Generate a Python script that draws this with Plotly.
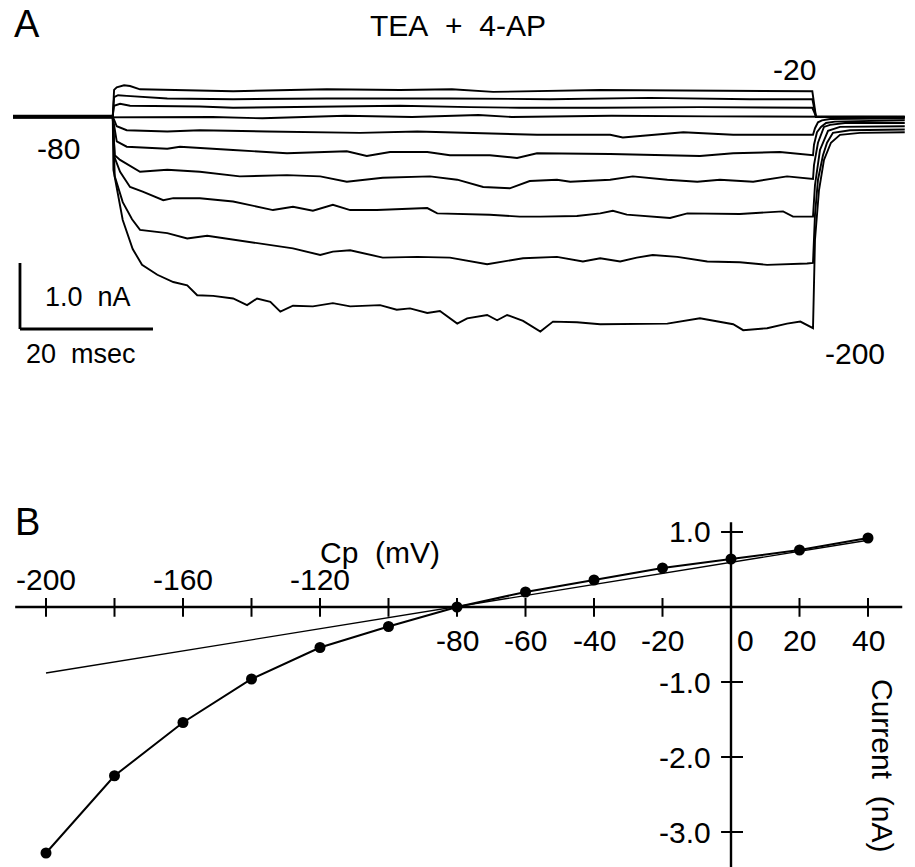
import plotly.graph_objects as go

W, H = 915, 867
FONT = "Liberation Sans, Arial, Helvetica, sans-serif"

# ---------------- Panel A: current traces (time in ms, current in nA) ----------------
step_mv = [-20, -40, -60, -80, -100, -120, -140, -160, -180, -200]

t_m20 = [0, 15.0, 15.2, 15.6, 16.7, 17.6, 19.1, 23.2, 33.1, 47.2, 58.2, 66.0, 72.2, 88.3, 103.3, 120.2, 120.75, 134.1]
i_m20 = [0.01, 0.01, 0.41, 0.45, 0.48, 0.47, 0.42, 0.41, 0.39, 0.42, 0.41, 0.42, 0.38, 0.41, 0.40, 0.39, 0.0, 0.01]

t_m40 = [0, 15.0, 15.2, 15.8, 17.1, 23.2, 33.1, 47.2, 65.7, 80.8, 95.8, 110.8, 120.2, 120.75, 134.1]
i_m40 = [0.0, 0.0, 0.30, 0.33, 0.32, 0.28, 0.27, 0.28, 0.28, 0.27, 0.29, 0.27, 0.27, 0.0, -0.01]

t_m60 = [0, 15.0, 15.2, 16.1, 17.6, 28.1, 33.1, 47.2, 58.2, 68.7, 76.2, 88.3, 103.3, 120.2, 120.75, 134.1]
i_m60 = [0.02, 0.02, 0.17, 0.20, 0.17, 0.16, 0.14, 0.16, 0.17, 0.15, 0.14, 0.14, 0.15, 0.14, 0.01, 0.0]

t_m80 = [0, 15.0, 30.0, 37.5, 50.0, 60.0, 70.0, 75.0, 90.0, 105.0, 120.2, 134.1]
i_m80 = [-0.01, -0.01, 0.0, -0.02, 0.02, 0.0, 0.03, 0.0, 0.02, 0.01, 0.0, 0.0]

t_m100 = [0, 15.0, 15.6, 17.1, 23.2, 28.1, 38.2, 52.2, 60.8, 78.8, 89.8, 91.7, 100.8, 108.3,
          120.3, 120.6, 121.05, 121.65, 122.86, 134.1]
i_m100 = [0.01, 0.01, -0.14, -0.20, -0.22, -0.20, -0.22, -0.24, -0.22, -0.27, -0.27, -0.31, -0.23, -0.27,
          -0.27, -0.17, -0.08, -0.05, -0.03, -0.02]

t_m120 = [0, 15.0, 15.6, 17.1, 23.2, 25.1, 33.1, 41.2, 50.2, 53.2, 56.7, 62.3, 65.7, 71.7, 75.8, 78.8,
          89.8, 100.8, 103.3, 108.3, 115.3, 120.3, 120.45, 120.9, 121.5, 122.26, 123.6, 134.1]
i_m120 = [0.0, 0.0, -0.37, -0.45, -0.48, -0.45, -0.50, -0.55, -0.52, -0.59, -0.53, -0.53, -0.58, -0.58, -0.62, -0.55,
          -0.56, -0.58, -0.59, -0.55, -0.53, -0.58, -0.42, -0.23, -0.15, -0.09, -0.07, -0.05]

t_m140 = [0, 15.0, 15.3, 16.1, 19.1, 23.2, 28.1, 34.1, 41.2, 46.2, 50.2, 55.6, 62.7, 66.8, 70.7, 74.7, 77.7,
          81.8, 83.8, 89.8, 93.2, 98.4, 102.9, 106.3, 111.3, 116.4, 120.3, 120.45, 121.05, 121.95, 122.86,
          125.1, 134.1]
i_m140 = [-0.01, -0.01, -0.58, -0.65, -0.83, -0.80, -0.83, -0.90, -0.88, -0.90, -0.98, -0.92, -0.90, -0.95,
          -1.06, -1.08, -0.97, -0.95, -0.98, -0.95, -0.90, -0.95, -0.98, -0.95, -0.98, -0.90, -0.94, -0.73,
          -0.39, -0.15, -0.12, -0.09, -0.09]

t_m160 = [0, 15.0, 15.3, 16.1, 17.6, 19.5, 22.6, 24.1, 28.1, 33.1, 39.1, 42.1, 45.1, 48.1, 50.7, 54.7,
          62.3, 63.8, 71.7, 76.2, 79.3, 84.8, 88.3, 90.2, 92.3, 98.8, 101.4, 109.3, 115.8, 117.3, 120.3,
          120.6, 121.35, 121.8, 122.56, 124.36, 134.1]
i_m160 = [0.0, 0.0, -0.62, -0.83, -1.06, -1.13, -1.26, -1.23, -1.23, -1.28, -1.41, -1.36, -1.42, -1.33,
          -1.41, -1.41, -1.38, -1.46, -1.48, -1.51, -1.51, -1.50, -1.46, -1.42, -1.48, -1.53, -1.46, -1.47,
          -1.43, -1.51, -1.51, -1.03, -0.50, -0.39, -0.21, -0.15, -0.14]

t_m180 = [0, 15.0, 15.3, 16.5, 17.9, 19.1, 23.2, 26.2, 29.2, 33.1, 38.2, 42.1, 46.2, 48.1, 50.7, 55.6,
          60.8, 65.7, 71.3, 73.7, 76.7, 81.8, 85.7, 88.3, 91.3, 93.8, 96.2, 99.9, 104.4, 109.3, 113.4,
          119.4, 120.3, 120.6, 121.05, 121.8, 122.41, 123.3, 125.86, 134.1]
i_m180 = [0.01, 0.01, -0.90, -1.29, -1.55, -1.71, -1.76, -1.84, -1.80, -1.86, -1.94, -1.99, -2.09, -2.04,
          -2.02, -2.13, -2.12, -2.13, -2.23, -2.19, -2.14, -2.12, -2.19, -2.14, -2.19, -2.13, -2.09, -2.12,
          -2.19, -2.20, -2.24, -2.22, -2.21, -1.48, -0.95, -0.58, -0.39, -0.24, -0.20, -0.19]

t_m200 = [0, 15.0, 15.1, 16.5, 18.0, 19.4, 21.7, 24.1, 26.2, 27.7, 30.1, 33.1, 35.2, 36.7, 38.7, 40.2,
          42.1, 45.1, 48.1, 50.7, 55.2, 57.7, 59.7, 62.3, 64.2, 66.8, 68.3, 71.3, 72.8, 74.3, 76.7, 79.3,
          81.2, 84.8, 88.3, 93.2, 98.4, 103.3, 108.3, 109.8, 113.4, 116.4, 118.4, 120.3, 120.6, 121.2,
          121.95, 123.0, 124.36, 127.37, 134.1]
i_m200 = [-0.01, -0.01, -0.80, -1.56, -2.00, -2.24, -2.39, -2.50, -2.55, -2.70, -2.71, -2.75, -2.85, -2.75,
          -2.80, -2.95, -2.86, -2.87, -2.82, -2.87, -2.85, -2.92, -2.90, -2.97, -2.94, -3.13, -3.05, -3.00,
          -3.08, -3.00, -3.09, -3.25, -3.10, -3.11, -3.14, -3.14, -3.13, -3.05, -3.14, -3.23, -3.20, -3.13,
          -3.10, -3.20, -1.86, -1.11, -0.65, -0.39, -0.27, -0.24, -0.23]

traces_A = [(t_m20, i_m20), (t_m40, i_m40), (t_m60, i_m60), (t_m80, i_m80), (t_m100, i_m100),
            (t_m120, i_m120), (t_m140, i_m140), (t_m160, i_m160), (t_m180, i_m180), (t_m200, i_m200)]

# scale bars
bar_ms = 20.0
bar_na = 1.0

# ---------------- Panel B: I-V relation ----------------
iv_mv = [-200, -180, -160, -140, -120, -100, -80, -60, -40, -20, 0, 20, 40]
iv_na = [-3.28, -2.25, -1.54, -0.96, -0.54, -0.26, 0.0, 0.20, 0.36, 0.52, 0.64, 0.76, 0.92]
fit_mv = [-200, 40]
fit_na = [-0.88, 0.89]

x_ticks = [-200, -180, -160, -140, -120, -100, -80, -60, -40, -20, 0, 20, 40]
x_labels_above = [-200, -160, -120]
x_labels_below = [-80, -60, -40, -20, 0, 20, 40]
y_ticks = [1.0, -1.0, -2.0, -3.0]
y_tick_text = ["1.0", "-1.0", "-2.0", "-3.0"]
x_axis_span = [-209, 50]
y_axis_span = [-3.47, 1.13]

fig = go.Figure()

for t, i in traces_A:
    fig.add_trace(go.Scatter(x=t, y=i, mode="lines", line=dict(color="black", width=1.9),
                             xaxis="x", yaxis="y", hoverinfo="skip", showlegend=False))

# Panel B axes lines and ticks
fig.add_trace(go.Scatter(x=x_axis_span, y=[0, 0], mode="lines", line=dict(color="black", width=2.4),
                         xaxis="x2", yaxis="y2", hoverinfo="skip", showlegend=False))
fig.add_trace(go.Scatter(x=[0, 0], y=y_axis_span, mode="lines", line=dict(color="black", width=2.4),
                         xaxis="x2", yaxis="y2", hoverinfo="skip", showlegend=False))
tx, ty = [], []
for v in x_ticks:
    tx += [v, v, None]
    ty += [-0.13, 0.12, None]
fig.add_trace(go.Scatter(x=tx, y=ty, mode="lines", line=dict(color="black", width=2.0),
                         xaxis="x2", yaxis="y2", hoverinfo="skip", showlegend=False))
ux, uy = [], []
for c in y_ticks:
    ux += [-2.9, 3.5, None]
    uy += [c, c, None]
fig.add_trace(go.Scatter(x=ux, y=uy, mode="lines", line=dict(color="black", width=2.0),
                         xaxis="x2", yaxis="y2", hoverinfo="skip", showlegend=False))

# fit line and data
fig.add_trace(go.Scatter(x=fit_mv, y=fit_na, mode="lines", line=dict(color="black", width=1.4),
                         xaxis="x2", yaxis="y2", hoverinfo="skip", showlegend=False))
fig.add_trace(go.Scatter(x=iv_mv, y=iv_na, mode="lines+markers",
                         line=dict(color="black", width=2.0),
                         marker=dict(color="black", size=11, symbol="circle"),
                         xaxis="x2", yaxis="y2", hoverinfo="skip", showlegend=False))

shapes = [
    dict(type="line", xref="x", yref="y", x0=1.05, x1=1.05, y0=-3.212, y1=-3.212 + bar_na,
         line=dict(color="black", width=2.8)),
    dict(type="line", xref="x", yref="y", x0=1.05, x1=1.05 + bar_ms, y0=-3.212, y1=-3.212,
         line=dict(color="black", width=2.8)),
]


def P(px, py):
    return px / W, 1 - py / H


annotations = []
TS = 30


def txt(s, px, py, size=TS, angle=0, xanchor="center"):
    x, y = P(px, py)
    annotations.append(dict(text=s, x=x, y=y, xref="paper", yref="paper", showarrow=False,
                            xanchor=xanchor, yanchor="middle", textangle=angle,
                            font=dict(family=FONT, size=size, color="black")))


txt("A", 27, 24, size=38)
txt("TEA&nbsp;&nbsp;+&nbsp;&nbsp;4-AP", 458, 26)
txt("-20", 794, 69)
txt("-80", 59, 148)
txt("1.0&nbsp;&nbsp;nA", 88, 297, size=27)
txt("20&nbsp;&nbsp;msec", 81, 354, size=27)
txt("-200", 855, 353)
txt("B", 27, 522, size=38)
txt("Cp&nbsp;&nbsp;(mV)", 380, 552)
txt("Current&nbsp;&nbsp;(nA)", 883, 765, angle=90)

for v in x_labels_above:
    annotations.append(dict(text=str(v), x=v, y=0.37, xref="x2", yref="y2", showarrow=False,
                            xanchor="center", yanchor="middle",
                            font=dict(family=FONT, size=TS, color="black")))
for v in x_labels_below:
    annotations.append(dict(text=str(v), x=(v + 4.1 if v == 0 else v), y=-0.45, xref="x2", yref="y2",
                            showarrow=False, xanchor="center", yanchor="middle",
                            font=dict(family=FONT, size=TS, color="black")))
for c, s in zip(y_ticks, y_tick_text):
    annotations.append(dict(text=s, x=-5.2, y=c, xref="x2", yref="y2", showarrow=False,
                            xanchor="right", yanchor="middle",
                            font=dict(family=FONT, size=TS, color="black")))

fig.update_layout(
    width=W, height=H,
    margin=dict(l=0, r=0, t=0, b=0),
    paper_bgcolor="white", plot_bgcolor="white",
    showlegend=False,
    xaxis=dict(domain=[0, 1], range=[-13 / 6.65, 902 / 6.65], visible=False, anchor="y"),
    yaxis=dict(domain=[0.6, 1], range=[(117 - 346.8) / 66, 117 / 66], visible=False, anchor="x"),
    xaxis2=dict(domain=[0, 1], range=[-731 / 3.425, 184 / 3.425], visible=False, anchor="y2"),
    yaxis2=dict(domain=[0, 0.4], range=[(607 - 867) / 75, (607 - 520.2) / 75], visible=False, anchor="x2"),
    shapes=shapes,
    annotations=annotations,
)

fig.write_html("out.html", config={"displayModeBar": False},
               post_script="document.body.style.margin='0';document.body.style.overflow='hidden';")
